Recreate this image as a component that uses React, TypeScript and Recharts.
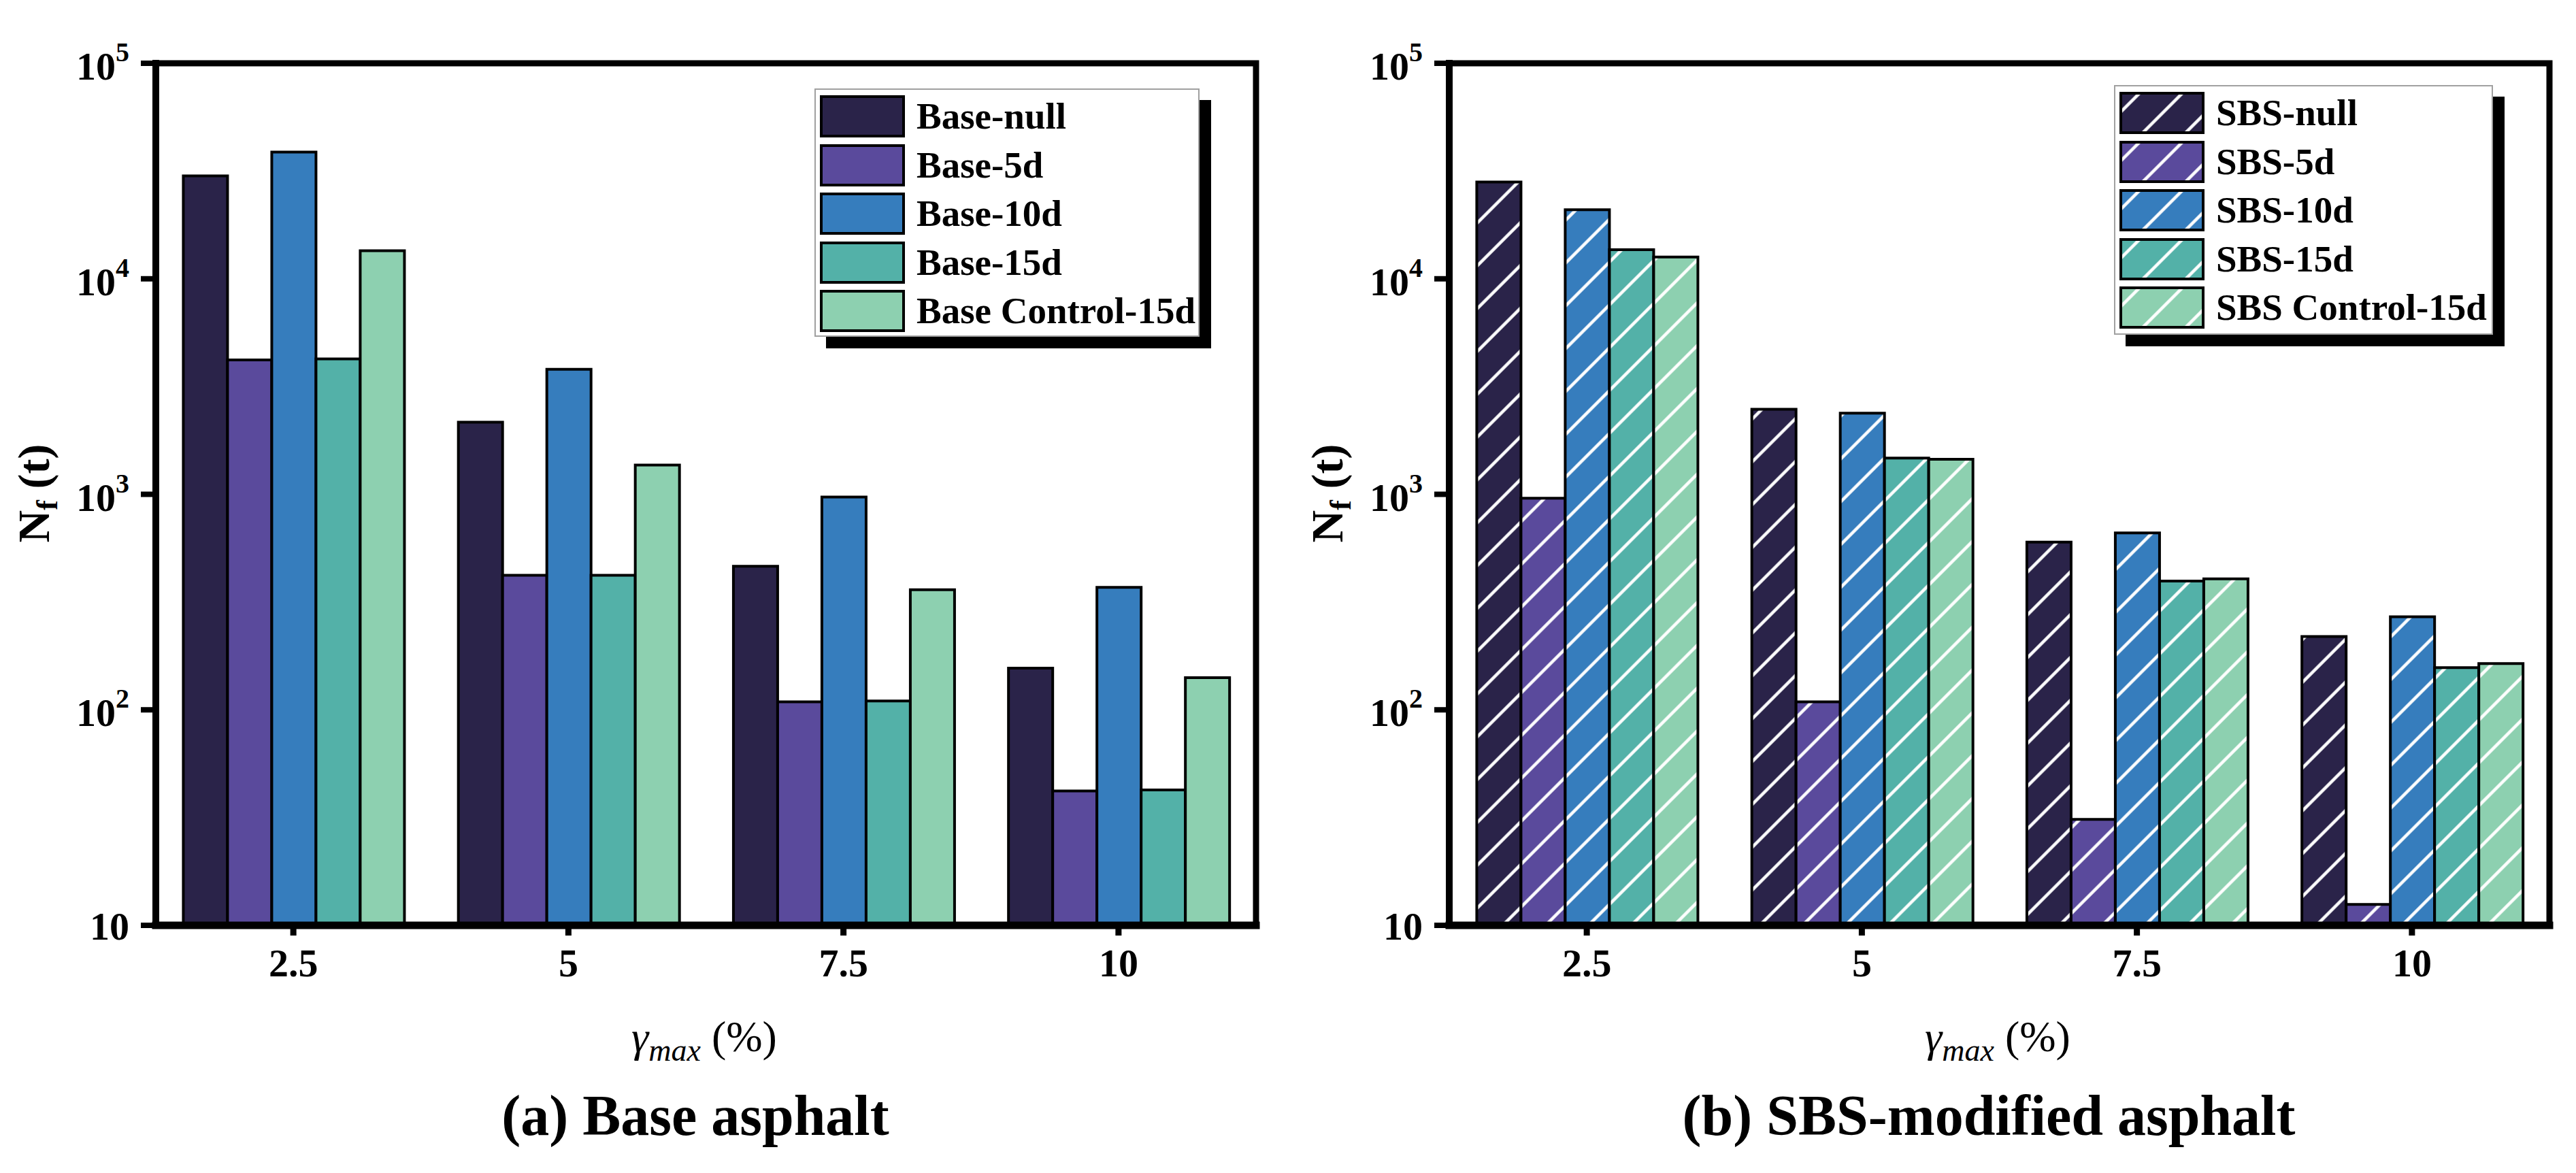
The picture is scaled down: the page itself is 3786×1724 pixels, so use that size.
import React from 'react';
import { BarChart, Bar, XAxis, YAxis, Legend, ReferenceArea } from 'recharts';

// ---------- data ----------
const categories = ['2.5', '5', '7.5', '10'];

const baseNull = [30000, 2160, 464, 156];
const base5d = [4200, 421, 109, 42];
const base10d = [38700, 3800, 971, 370];
const base15d = [4250, 421, 110, 42.5];
const baseControl15d = [13500, 1366, 361, 141];

const sbsNull = [28100, 2480, 600, 219];
const sbs5d = [959, 109, 31, 12.5];
const sbs10d = [20900, 2380, 662, 270];
const sbs15d = [13650, 1473, 396, 157];
const sbsControl15d = [12620, 1454, 405, 164];

const yTicks = [10, 100, 1000, 10000, 100000];

const baseNames = ['Base-null', 'Base-5d', 'Base-10d', 'Base-15d', 'Base Control-15d'];
const sbsNames = ['SBS-null', 'SBS-5d', 'SBS-10d', 'SBS-15d', 'SBS Control-15d'];

const colors = ['#2a2349', '#5a4a9c', '#367dbd', '#53b1a8', '#8dd0b0'];

const seriesKeys = ['s0', 's1', 's2', 's3', 's4'];

const baseData = categories.map((c, i) => ({
  gamma: c,
  s0: baseNull[i],
  s1: base5d[i],
  s2: base10d[i],
  s3: base15d[i],
  s4: baseControl15d[i],
}));

const sbsData = categories.map((c, i) => ({
  gamma: c,
  s0: sbsNull[i],
  s1: sbs5d[i],
  s2: sbs10d[i],
  s3: sbs15d[i],
  s4: sbsControl15d[i],
}));

// ---------- layout ----------
const FONT = "'Liberation Serif', 'Times New Roman', serif";
const CH_W = 1885;
const CH_H = 1724;
const PLOT_L = 229;
const PLOT_T = 93;
const PLOT_R = 1846;
const PLOT_B = 1360;
const HATCH = 44.5;

const YTick = (props: any) => {
  const { x, y, payload } = props;
  const exp = Math.round(Math.log10(payload.value));
  if (exp === 1) {
    return (
      <text x={x} y={y} dy={21} textAnchor="end" fontFamily={FONT} fontWeight="bold" fontSize={58} fill="#000">
        10
      </text>
    );
  }
  return (
    <text x={x} y={y} dy={24} textAnchor="end" fontFamily={FONT} fontWeight="bold" fontSize={58} fill="#000">
      10
      <tspan dy={-27} fontSize={40}>
        {exp}
      </tspan>
    </text>
  );
};

const XTick = (props: any) => {
  const { x, y, payload } = props;
  return (
    <text x={x} y={y} dy={40} textAnchor="middle" fontFamily={FONT} fontWeight="bold" fontSize={58} fill="#000">
      {payload.value}
    </text>
  );
};

const makeXLabel = (title: string) => () =>
  (
    <g>
      <text x={1035} y={1545} textAnchor="middle" fontFamily={FONT} fontSize={64} fill="#000">
        <tspan fontStyle="italic">γ</tspan>
        <tspan fontStyle="italic" fontSize={46} dy={14}>
          max
        </tspan>
        <tspan dy={-14}>{' (%)'}</tspan>
      </text>
      <text x={1022} y={1668} textAnchor="middle" fontFamily={FONT} fontWeight="bold" fontSize={84} fill="#000">
        {title}
      </text>
    </g>
  );

const renderYLabel = () => (
  <text
    transform="translate(72,725) rotate(-90)"
    textAnchor="middle"
    fontFamily={FONT}
    fontWeight="bold"
    fontSize={66}
    fill="#000"
  >
    N
    <tspan fontSize={44} dy={12}>
      f
    </tspan>
    <tspan dy={-12}>{' (t)'}</tspan>
  </text>
);

const makeLegend = (hatched: boolean, names: string[], box: { width: number; height: number }) => () =>
  (
    <div
      style={{
        width: box.width,
        height: box.height,
        background: '#fff',
        border: '2px solid #a0a0a0',
        boxShadow: '17px 17px 0 #000',
        boxSizing: 'border-box',
        position: 'relative',
      }}
    >
      {names.map((name: string, i: number) => (
        <div
          key={name}
          style={{
            position: 'absolute',
            left: 6,
            top: 8 + i * 71.5,
            height: 62,
            display: 'flex',
            alignItems: 'center',
            whiteSpace: 'nowrap',
          }}
        >
          <svg width={125} height={62} style={{ display: 'block' }}>
            {hatched && (
              <defs>
                <pattern
                  id={`lg-hatch-${i}`}
                  patternUnits="userSpaceOnUse"
                  width={HATCH}
                  height={HATCH}
                  patternTransform="rotate(45)"
                >
                  <rect width={HATCH} height={HATCH} fill={colors[i]} />
                  <line x1={HATCH / 2} y1={0} x2={HATCH / 2} y2={HATCH} stroke="#fff" strokeWidth={4.5} />
                </pattern>
              </defs>
            )}
            <rect
              x={2}
              y={2}
              width={121}
              height={58}
              fill={hatched ? `url(#lg-hatch-${i})` : colors[i]}
              stroke="#000"
              strokeWidth={4}
            />
          </svg>
          <span
            style={{
              marginLeft: 17,
              fontFamily: FONT,
              fontWeight: 'bold',
              fontSize: 55,
              lineHeight: '62px',
              color: '#000',
            }}
          >
            {name}
          </span>
        </div>
      ))}
    </div>
  );

const Panel = (props: {
  data: any[];
  names: string[];
  hatched: boolean;
  title: string;
  legendBox: { left: number; top: number; width: number; height: number };
}) => {
  const { data, names, hatched, title, legendBox } = props;
  return (
    <BarChart
      width={CH_W}
      height={CH_H}
      data={data}
      margin={{ top: PLOT_T, right: CH_W - PLOT_R, bottom: 0, left: 0 }}
      barCategoryGap="10%"
      barGap={0}
    >
      <defs>
        {colors.map((c, i) => (
          <pattern
            key={i}
            id={`hatch-${i}`}
            patternUnits="userSpaceOnUse"
            width={HATCH}
            height={HATCH}
            patternTransform="rotate(45)"
          >
            <rect width={HATCH} height={HATCH} fill={c} />
            <line x1={HATCH / 2} y1={0} x2={HATCH / 2} y2={HATCH} stroke="#fff" strokeWidth={4.5} />
          </pattern>
        ))}
      </defs>
      <XAxis
        dataKey="gamma"
        height={CH_H - PLOT_B}
        tickSize={15}
        tickMargin={20}
        tick={<XTick />}
        tickLine={{ stroke: '#000', strokeWidth: 9 }}
        axisLine={{ stroke: '#000', strokeWidth: 11, strokeLinecap: 'square' }}
        interval={0}
        label={makeXLabel(title)}
      />
      <YAxis
        scale="log"
        domain={[10, 100000]}
        ticks={yTicks}
        allowDataOverflow
        width={PLOT_L}
        tickSize={22}
        tickMargin={17}
        tick={<YTick />}
        tickLine={{ stroke: '#000', strokeWidth: 8 }}
        axisLine={{ stroke: '#000', strokeWidth: 10, strokeLinecap: 'square' }}
        interval={0}
        label={renderYLabel}
      />
      <ReferenceArea
        y1={10}
        y2={100000}
        fill="none"
        fillOpacity={0}
        stroke="#000"
        strokeWidth={9}
        ifOverflow="visible"
      />
      <Legend
        layout="horizontal"
        verticalAlign="middle"
        align="center"
        content={makeLegend(hatched, names, legendBox)}
        wrapperStyle={{
          position: 'absolute',
          left: legendBox.left,
          top: legendBox.top,
          width: legendBox.width,
          height: legendBox.height,
        }}
      />
      {seriesKeys.map((k, i) => (
        <Bar
          key={k}
          dataKey={k}
          name={names[i]}
          fill={hatched ? `url(#hatch-${i})` : colors[i]}
          stroke="#000"
          strokeWidth={4}
          isAnimationActive={false}
        />
      ))}
    </BarChart>
  );
};

export default function App() {
  return (
    <div style={{ position: 'absolute', left: 0, top: 0, width: 3786, height: 1724, background: '#fff' }}>
      <div style={{ position: 'absolute', left: 0, top: 0 }}>
        <Panel
          data={baseData}
          names={baseNames}
          hatched={false}
          title="(a) Base asphalt"
          legendBox={{ left: 1197, top: 130, width: 566, height: 365 }}
        />
      </div>
      <div style={{ position: 'absolute', left: 1901, top: 0 }}>
        <Panel
          data={sbsData}
          names={sbsNames}
          hatched={true}
          title="(b) SBS-modified asphalt"
          legendBox={{ left: 1206, top: 125, width: 557, height: 367 }}
        />
      </div>
    </div>
  );
}
